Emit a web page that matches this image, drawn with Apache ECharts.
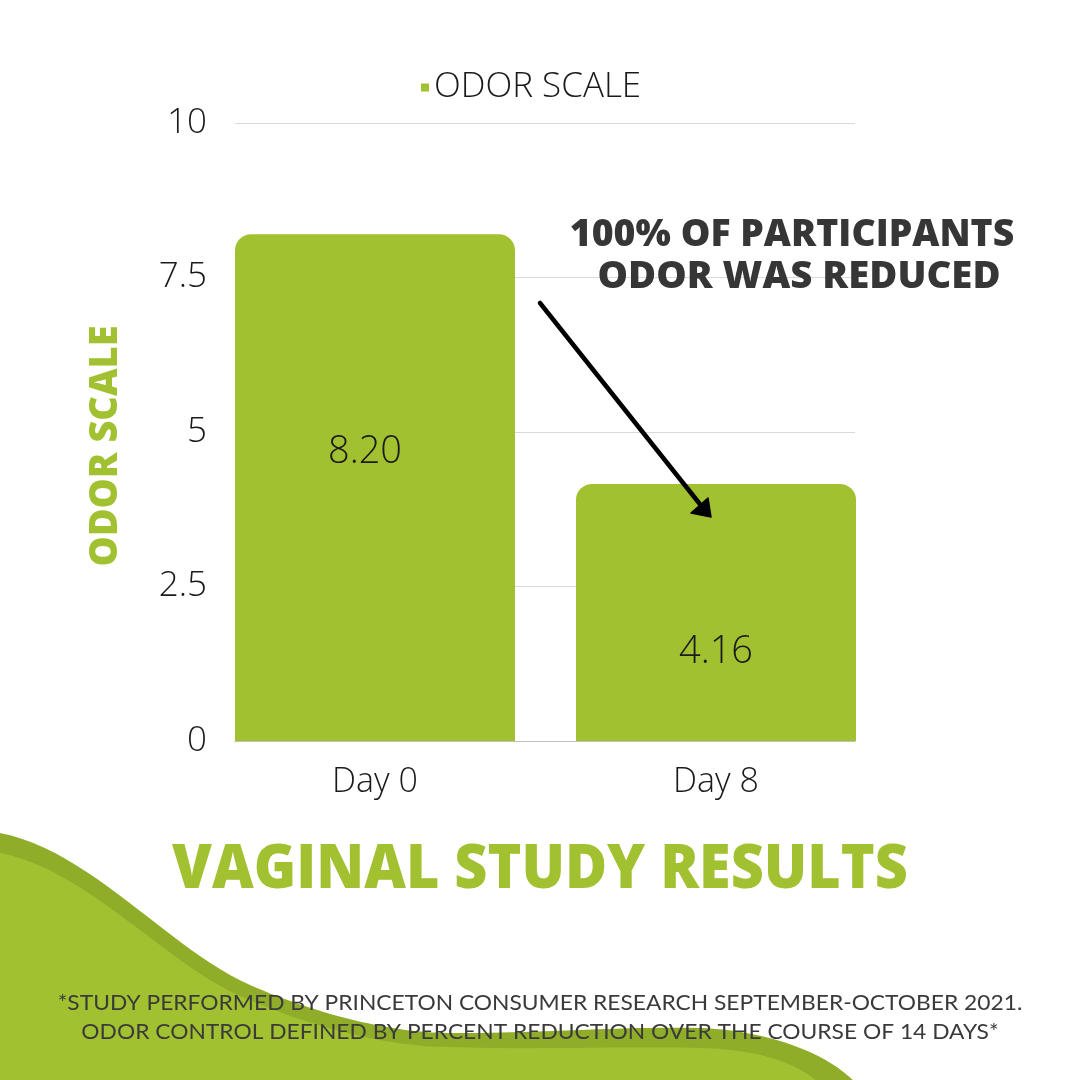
<!DOCTYPE html>
<html>
<head>
<meta charset="utf-8">
<script src="https://cdn.jsdelivr.net/npm/echarts@6/dist/echarts.min.js"></script>
<style>html,body{margin:0;padding:0;background:#fff;}#c{width:1080px;height:1080px;}</style>
</head>
<body>
<div id="c"></div>
<script>
var categories = ['Day 0', 'Day 8'];
var odorValues = [8.20, 4.16];
var seriesName = 'ODOR SCALE';
var yTicks = [0, 2.5, 5, 7.5, 10];
var titleText = 'VAGINAL STUDY RESULTS';
var calloutLines = ['100% OF PARTICIPANTS', 'ODOR WAS REDUCED'];
var footnoteLines = ['*STUDY PERFORMED BY PRINCETON CONSUMER RESEARCH SEPTEMBER-OCTOBER 2021.',
                     'ODOR CONTROL DEFINED BY PERCENT REDUCTION OVER THE COURSE OF 14 DAYS*'];

var GREEN = '#a2c131';
var DARKGREEN = '#8fad29';
var labelOffsets = [[-10, -35], [0, 40]];

// decorative wave: cubic bezier segments sampled to polygon points
function waveShape(start, segs, closeBottom) {
  var pts = [start];
  var p0 = start;
  segs.forEach(function (s) {
    for (var k = 1; k <= 24; k++) {
      var t = k / 24, u = 1 - t;
      pts.push([
        u*u*u*p0[0] + 3*u*u*t*s[0][0] + 3*u*t*t*s[1][0] + t*t*t*s[2][0],
        u*u*u*p0[1] + 3*u*u*t*s[0][1] + 3*u*t*t*s[1][1] + t*t*t*s[2][1]
      ]);
    }
    p0 = s[2];
  });
  pts.push([0, closeBottom]);
  return pts;
}
var darkWave = waveShape([0, 833], [
  [[90, 850], [170, 950], [250, 985]],
  [[300, 1007], [380, 1033], [450, 1033]],
  [[530, 1034], [620, 1026], [700, 1028]],
  [[760, 1030], [830, 1050], [862, 1090]]
], 1090);
var lightWave = waveShape([0, 853], [
  [[90, 870], [170, 970], [250, 1000]],
  [[300, 1022], [380, 1047], [450, 1047]],
  [[530, 1050], [620, 1046], [700, 1048]],
  [[750, 1049], [800, 1060], [826, 1090]]
], 1090);

var chart = echarts.init(document.getElementById('c'), null, {renderer: 'canvas'});
var option = {
  backgroundColor: '#ffffff',
  animation: false,
  legend: {
    left: 416, top: 65,
    icon: 'rect', itemWidth: 8, itemHeight: 8, itemGap: 8,
    data: [seriesName],
    textStyle: {fontFamily: 'Open Sans', fontWeight: 300, fontSize: 35, color: '#1a1a1a'}
  },
  grid: [
    {left: 235, right: 225, top: 123, bottom: 339},
    {left: 204.5, right: 193.5, top: 123, bottom: 339}
  ],
  xAxis: [
    {gridIndex: 0, type: 'category', data: categories,
     axisLine: {show: true, lineStyle: {color: '#bfbfbf', width: 1}},
     axisTick: {show: false}, axisLabel: {show: false}, z: 5},
    {gridIndex: 1, type: 'category', data: categories,
     axisLine: {show: false}, axisTick: {show: false},
     axisLabel: {fontFamily: 'Open Sans', fontWeight: 300, fontSize: 34, color: '#1a1a1a', margin: 24}}
  ],
  yAxis: [
    {gridIndex: 0, type: 'value', min: 0, max: 10, interval: 2.5,
     axisLine: {show: false}, axisTick: {show: false},
     splitLine: {show: true, lineStyle: {color: '#d9d9d9', width: 1}},
     axisLabel: {fontFamily: 'Open Sans', fontWeight: 300, fontSize: 35, color: '#1a1a1a', margin: 28,
       formatter: function (v) { return yTicks.indexOf(v) >= 0 ? String(v) : ''; }}},
    {gridIndex: 1, type: 'value', min: 0, max: 10, interval: 2.5, show: false}
  ],
  series: [{
    name: seriesName, type: 'bar', xAxisIndex: 1, yAxisIndex: 1,
    barWidth: 280,
    itemStyle: {color: GREEN, borderRadius: [16, 16, 0, 0]},
    data: odorValues.map(function (v, i) {
      return {value: v, label: {offset: labelOffsets[i]}};
    }),
    label: {show: true, position: 'inside',
      formatter: function (p) { return p.value.toFixed(2); },
      fontFamily: 'Open Sans', fontWeight: 300, fontSize: 38, color: '#1a1a1a'}
  }],
  graphic: [
    {type: 'polygon', z: -10, silent: true, shape: {points: darkWave}, style: {fill: DARKGREEN}},
    {type: 'polygon', z: -9, silent: true, shape: {points: lightWave}, style: {fill: GREEN}},
    {type: 'text', z: 10, x: 106, y: 446, rotation: Math.PI / 2,
     style: {text: seriesName, x: 0, y: 0, align: 'center', verticalAlign: 'middle',
      fontFamily: 'Open Sans', fontWeight: 800, fontSize: 38, fill: GREEN}},
    {type: 'text', z: 10, x: 540, y: 870, scaleX: 0.927,
     style: {text: titleText, x: 0, y: 0, align: 'center', verticalAlign: 'middle',
      fontFamily: 'Open Sans', fontWeight: 800, fontSize: 62, fill: GREEN}},
    {type: 'text', z: 10, x: 540, y: 1003, scaleX: 1.06,
     style: {text: footnoteLines[0], x: 0, y: 0, align: 'center', verticalAlign: 'middle',
      fontFamily: 'Lato', fontSize: 21.5, fill: '#3a3a3a'}},
    {type: 'text', z: 10, x: 540, y: 1032, scaleX: 1.06,
     style: {text: footnoteLines[1], x: 0, y: 0, align: 'center', verticalAlign: 'middle',
      fontFamily: 'Lato', fontSize: 21.5, fill: '#3a3a3a'}},
    {type: 'text', z: 10, x: 792, y: 235, scaleX: 1.01,
     style: {text: calloutLines[0], x: 0, y: 0, align: 'center', verticalAlign: 'middle',
      fontFamily: 'Open Sans', fontWeight: 800, fontSize: 37, fill: '#363636'}},
    {type: 'text', z: 10, x: 799, y: 277, scaleX: 1.036,
     style: {text: calloutLines[1], x: 0, y: 0, align: 'center', verticalAlign: 'middle',
      fontFamily: 'Open Sans', fontWeight: 800, fontSize: 37, fill: '#363636'}},
    {type: 'line', z: 10, shape: {x1: 540, y1: 303, x2: 703, y2: 508},
     style: {stroke: '#000', lineWidth: 4.5, lineCap: 'round'}},
    {type: 'polygon', z: 10, shape: {points: [[711, 517], [691, 513], [708, 498]]},
     style: {fill: '#000', stroke: '#000', lineWidth: 1.5, lineJoin: 'round'}}
  ]
};
chart.setOption(option);
</script>
</body>
</html>
